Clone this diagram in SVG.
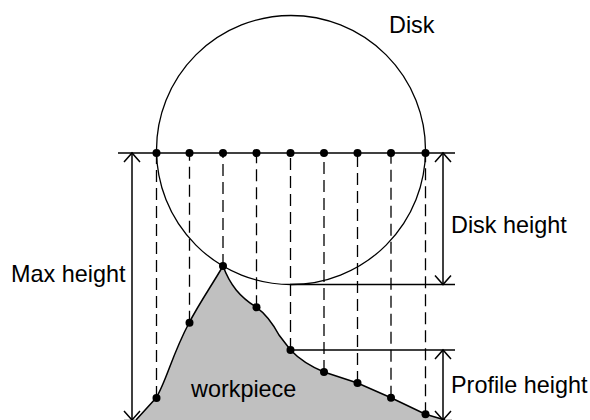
<svg xmlns="http://www.w3.org/2000/svg" width="590" height="420" viewBox="0 0 590 420">
<style>
.ln{stroke:#000;stroke-width:1.5;fill:none}
.dash{stroke:#000;stroke-width:1.3;fill:none;stroke-dasharray:12,6}
.dot{fill:#000}
.lbl{font-family:"Liberation Sans",Arial,sans-serif;font-size:23.4px;fill:#000}
.dim{stroke:#000;stroke-width:1.5;fill:none;marker-start:url(#ah);marker-end:url(#ah)}
</style>
<defs>
<marker id="ah" markerUnits="userSpaceOnUse" orient="auto-start-reverse" refX="0" refY="0" markerWidth="20" markerHeight="20" viewBox="-12 -10 14 20" overflow="visible">
<path d="M-9,-8 L0,0 L-9,8" stroke="#000" stroke-width="1.5" fill="none"/>
</marker>
</defs>
<g id="workpiece">
<path d="M124,419 L136,419 L156,398 C166,382 172,355 189,323 C200,302 212,285 223,266 C230,285 240,297 256.5,307.3 C266,314 272,322 279,335 L290.5,350 C300,360 312,367 324,372 L357.5,383 L391,397.7 L425.5,414.3 L445,419 L452,419 L452,421 L124,421 Z" fill="#c0c0c0"/>
<path class="ln" d="M136,420 L156,398 C166,382 172,355 189,323 C200,302 212,285 223,266 C230,285 240,297 256.5,307.3 C266,314 272,322 279,335 L290.5,350 C300,360 312,367 324,372 L357.5,383 L391,397.7 L425.5,414.3 L445,420"/>
<text class="lbl" x="191" y="397">workpiece</text>
</g>
<g id="disk">
<circle cx="291" cy="150" r="134.5" stroke="#000" stroke-width="1.3" fill="none"/>
<text class="lbl" x="389" y="33">Disk</text>
</g>
<g id="connectors">
<line class="ln" x1="118" y1="153" x2="455" y2="153"/>
<line class="ln" x1="290" y1="284.5" x2="455" y2="284.5"/>
<line class="ln" x1="290" y1="350" x2="455" y2="350"/>
<path class="dash" d="M156.5,398 V153 M189.5,322.7 V153 M223,266 V153 M256.5,307.3 V153 M290.5,350 V153 M324,372 V153 M357.5,383 V153 M391,397.7 V153 M425.5,414.3 V153"/>
<line class="dim" x1="132" y1="153" x2="132" y2="420"/>
<line class="dim" x1="443" y1="153" x2="443" y2="284.5"/>
<line class="dim" x1="443" y1="350" x2="443" y2="420"/>
</g>
<g id="dots">
<circle class="dot" cx="156.5" cy="153" r="4"/>
<circle class="dot" cx="189.5" cy="153" r="4"/>
<circle class="dot" cx="223" cy="153" r="4"/>
<circle class="dot" cx="256.5" cy="153" r="4"/>
<circle class="dot" cx="290.5" cy="153" r="4"/>
<circle class="dot" cx="324" cy="153" r="4"/>
<circle class="dot" cx="357.5" cy="153" r="4"/>
<circle class="dot" cx="391" cy="153" r="4"/>
<circle class="dot" cx="425.5" cy="153" r="4"/>
<circle class="dot" cx="156.5" cy="398" r="4"/>
<circle class="dot" cx="189.5" cy="322.7" r="4"/>
<circle class="dot" cx="223" cy="266" r="4"/>
<circle class="dot" cx="256.5" cy="307.3" r="4"/>
<circle class="dot" cx="290.5" cy="350" r="4"/>
<circle class="dot" cx="324" cy="372" r="4"/>
<circle class="dot" cx="357.5" cy="383" r="4"/>
<circle class="dot" cx="391" cy="397.7" r="4"/>
<circle class="dot" cx="425.5" cy="414.3" r="4"/>
</g>
<g id="labels">
<text class="lbl" x="11" y="282">Max height</text>
<text class="lbl" x="451" y="233">Disk height</text>
<text class="lbl" x="451" y="393">Profile height</text>
</g>
</svg>
